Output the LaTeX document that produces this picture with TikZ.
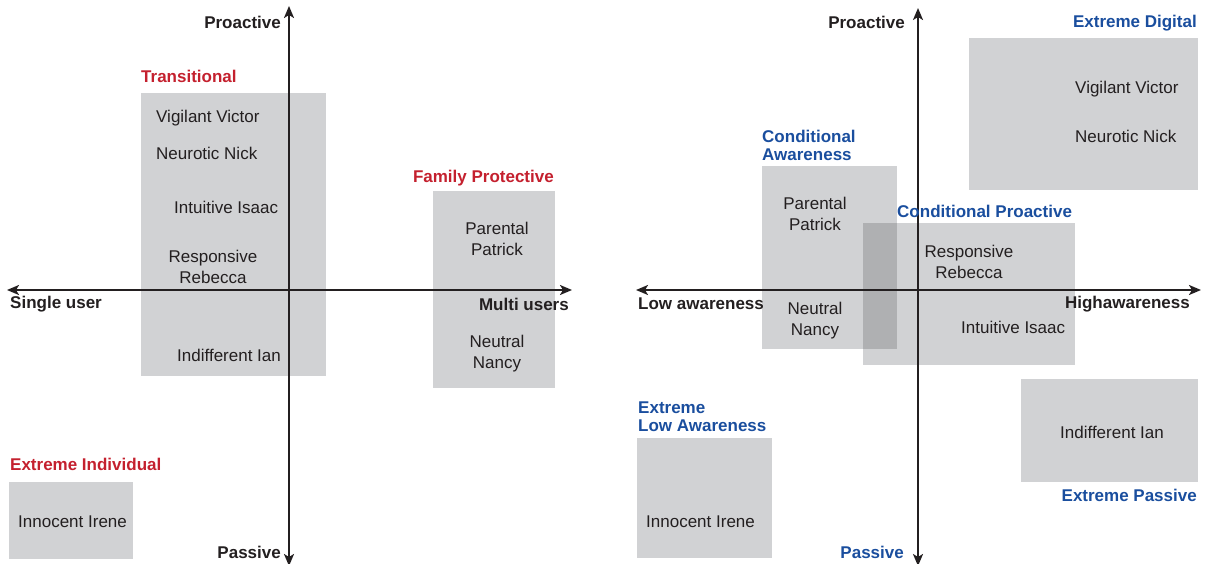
\documentclass[tikz,border=0pt]{standalone}
\usepackage{fontspec}
\setmainfont{Liberation Sans}
\usetikzlibrary{arrows.meta}
\definecolor{boxgray}{HTML}{D1D2D4}
\definecolor{overlapgray}{HTML}{AFB0B2}
\definecolor{headred}{HTML}{C4202E}
\definecolor{headblue}{HTML}{1A4E9E}
\definecolor{ink}{HTML}{231F20}
\begin{document}
\begin{tikzpicture}[x=1pt,y=-1pt,
  box/.style={fill=boxgray,draw=none,inner sep=0pt,anchor=north west},
  tip/.tip={Stealth[length=12pt,width=10pt,inset=3pt]},
  axis/.style={line width=2pt,draw=ink,tip-tip},
  persona/.style={font=\fontsize{17}{21}\selectfont,text=ink,inner sep=0pt,align=center},
  axlabel/.style={font=\fontsize{17}{20}\selectfont\bfseries,text=ink,inner sep=0pt},
  redhead/.style={font=\fontsize{17}{18}\selectfont\bfseries,text=headred,inner sep=0pt,align=left},
  bluehead/.style={font=\fontsize{17}{18}\selectfont\bfseries,text=headblue,inner sep=0pt,align=left}]
\useasboundingbox (0,0) rectangle (1206,564);

% ---------- left panel: single vs. multi users ----------
\node[box,minimum width=185pt,minimum height=283pt] (trans) at (141,93) {};
\node[box,minimum width=122pt,minimum height=197pt] (family) at (433,191) {};
\node[box,minimum width=124pt,minimum height=77pt] (indiv) at (9,482) {};

\coordinate (LW) at (7,290);
\coordinate (LE) at (572,290);
\coordinate (LN) at (289,6);
\coordinate (LS) at (289,566);
\draw[axis] (LW) -- (LE);
\draw[axis] (LS) -- (LN);

\node[axlabel,anchor=east] (lpro) at (281,22) {Proactive};
\node[axlabel,anchor=east] (lpas) at (281,552) {Passive};
\node[axlabel,anchor=west] (lsingle) at (10,304) {Single user};
\node[axlabel,anchor=east] (lmulti) at (569,304) {Multi users};

\node[redhead,anchor=west] (htrans) at (141,76) {Transitional};
\node[redhead,anchor=east] (hfamily) at (554,178) {Family Protective};
\node[redhead,anchor=west] (hindiv) at (10,464) {Extreme Individual};

\node[persona,anchor=west] (lvictor) at (156,118) {Vigilant Victor};
\node[persona,anchor=west] (lnick) at (156,153) {Neurotic Nick};
\node[persona,anchor=west] (lisaac) at (174,207) {Intuitive Isaac};
\node[persona] (lrebecca) at (213,267) {Responsive\\Rebecca};
\node[persona,anchor=west] (lian) at (177,355) {Indifferent Ian};
\node[persona] (lpatrick) at (497,239) {Parental\\Patrick};
\node[persona] (lnancy) at (497,354) {Neutral\\Nancy};
\node[persona,anchor=west] (lirene) at (18,522) {Innocent Irene};

% ---------- right panel: low vs. high awareness ----------
\node[box,minimum width=229pt,minimum height=152pt] (digital) at (969,38) {};
\node[box,minimum width=135pt,minimum height=183pt] (condaw) at (762,166) {};
\node[box,minimum width=212pt,minimum height=142pt] (condpro) at (863,223) {};
\node[fill=overlapgray,inner sep=0pt,anchor=north west,minimum width=34pt,minimum height=126pt] (overlap) at (863,223) {};
\node[box,minimum width=135pt,minimum height=120pt] (lowaw) at (637,438) {};
\node[box,minimum width=177pt,minimum height=103pt] (passive) at (1021,379) {};

\coordinate (RW) at (636,290);
\coordinate (RE) at (1201,290);
\coordinate (RN) at (918,8);
\coordinate (RS) at (918,566);
\draw[axis] (RW) -- (RE);
\draw[axis] (RS) -- (RN);

\node[axlabel,anchor=east] (rpro) at (905,22) {Proactive};
\node[axlabel,anchor=east,text=headblue] (rpas) at (904,552) {Passive};
\node[axlabel,anchor=west] (rlow) at (638,304) {Low awareness};
\node[axlabel,anchor=east] (rhigh) at (1190,304) {Highawareness};

\node[bluehead,anchor=east] (hdigital) at (1197,23) {Extreme Digital};
\node[bluehead,anchor=west] (hcondaw) at (762,145) {Conditional\\Awareness};
\node[bluehead,anchor=west] (hcondpro) at (897,211) {Conditional Proactive};
\node[bluehead,anchor=west] (hlowaw) at (638,417) {Extreme\\Low Awareness};
\node[bluehead,anchor=east] (hpassive) at (1197,495) {Extreme Passive};

\node[persona,anchor=west] (rvictor) at (1075,89) {Vigilant Victor};
\node[persona,anchor=west] (rnick) at (1075,136) {Neurotic Nick};
\node[persona] (rpatrick) at (815,214) {Parental\\Patrick};
\node[persona] (rnancy) at (815,321) {Neutral\\Nancy};
\node[persona] (rrebecca) at (969,262) {Responsive\\Rebecca};
\node[persona,anchor=west] (risaac) at (961,327) {Intuitive Isaac};
\node[persona] (rian) at (1112,432) {Indifferent Ian};
\node[persona,anchor=west] (rirene) at (646,522) {Innocent Irene};
\end{tikzpicture}
\end{document}
